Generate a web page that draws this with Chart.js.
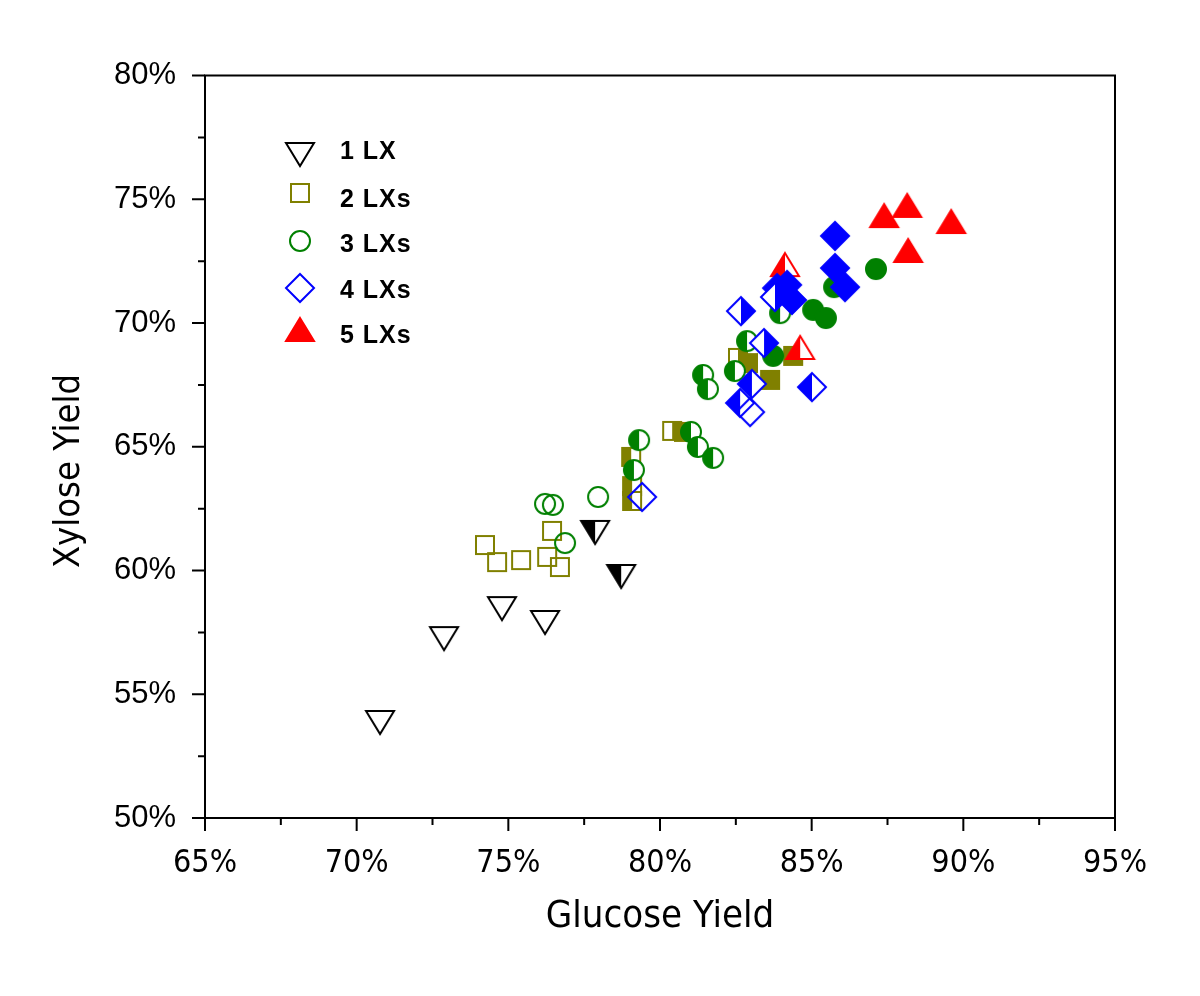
<!DOCTYPE html>
<html>
<head>
<meta charset="utf-8">
<script src="https://cdn.jsdelivr.net/npm/chart.js@4.4.1/dist/chart.umd.min.js"></script>
<style>
html, body { margin: 0; padding: 0; background: #ffffff; }
#wrap { width: 1200px; height: 996px; }
</style>
</head>
<body>
<div id="wrap"><canvas id="myChart" width="1200" height="996"></canvas></div>
<script>
// values, in %; fill: o = open, f = filled, L/R = half filled
const lx1_glucose = [70.77, 72.88, 74.79, 76.21, 77.86, 78.72];
const lx1_xylose  = [53.88, 57.27, 58.48, 57.92, 61.56, 59.78];
const lx1_fill    = ['o', 'o', 'o', 'o', 'L', 'L'];

const lx2_glucose = [74.23, 74.63, 75.42, 76.28, 76.44, 76.70, 79.05, 79.08, 79.08, 80.40, 80.79, 82.57, 82.90, 83.63, 84.39];
const lx2_xylose  = [61.03, 60.34, 60.42, 60.55, 61.60, 60.14, 64.59, 63.41, 62.81, 65.64, 65.60, 68.59, 68.38, 67.70, 68.67];
const lx2_fill    = ['o', 'o', 'o', 'o', 'o', 'o', 'L', 'L', 'L', 'R', 'L', 'R', 'f', 'f', 'f'];

const lx3_glucose = [76.21, 76.47, 76.87, 77.96, 79.14, 79.31, 81.02, 81.25, 81.75, 81.42, 81.58, 82.47, 82.87, 83.73, 83.96, 85.05, 85.47, 85.74, 87.12];
const lx3_xylose  = [62.69, 62.65, 61.11, 62.97, 64.06, 65.27, 65.60, 64.99, 64.55, 67.90, 67.33, 68.06, 69.27, 68.67, 70.40, 70.53, 70.20, 71.45, 72.18];
const lx3_fill    = ['o', 'o', 'o', 'o', 'L', 'L', 'L', 'L', 'L', 'L', 'L', 'L', 'L', 'f', 'L', 'f', 'f', 'f', 'f'];

const lx4_glucose = [79.41, 82.67, 83.43, 83.03, 82.64, 82.97, 85.01, 85.77, 85.77, 86.10, 83.86, 84.19, 84.35, 83.79];
const lx4_xylose  = [62.97, 70.48, 69.19, 67.54, 66.77, 66.40, 67.41, 73.52, 72.22, 71.45, 71.41, 71.54, 70.93, 71.05];
const lx4_fill    = ['o', 'R', 'R', 'L', 'L', 'o', 'L', 'f', 'f', 'f', 'f', 'f', 'f', 'R'];

const lx5_glucose = [84.12, 84.62, 87.39, 88.15, 89.60, 88.18];
const lx5_xylose  = [72.34, 68.99, 74.32, 74.73, 74.08, 72.91];
const lx5_fill    = ['L', 'L', 'f', 'f', 'f', 'f'];

const series_names = ['1 LX', '2 LXs', '3 LXs', '4 LXs', '5 LXs'];
const x_ticks = [65, 70, 75, 80, 85, 90, 95];
const y_ticks = [50, 55, 60, 65, 70, 75, 80];

function make_marker(shape, color, fill) {
    var c = document.createElement('canvas');
    c.width = 36; c.height = 36;
    var ctx = c.getContext('2d');
    var cx = 18, cy = 18;
    function path() {
        ctx.beginPath();
        if (shape == 'tri_down') { ctx.moveTo(cx - 14, cy - 11); ctx.lineTo(cx + 14, cy - 11); ctx.lineTo(cx, cy + 12); ctx.closePath(); }
        else if (shape == 'tri_up') { ctx.moveTo(cx, cy - 12); ctx.lineTo(cx + 14, cy + 11); ctx.lineTo(cx - 14, cy + 11); ctx.closePath(); }
        else if (shape == 'square') { ctx.rect(cx - 9, cy - 9, 18, 18); }
        else if (shape == 'circle') { ctx.arc(cx, cy, 10, 0, Math.PI * 2); }
        else { ctx.moveTo(cx, cy - 14); ctx.lineTo(cx + 14, cy); ctx.lineTo(cx, cy + 14); ctx.lineTo(cx - 14, cy); ctx.closePath(); }
    }
    ctx.lineWidth = 2;
    ctx.strokeStyle = color;
    if (fill == 'f') { path(); ctx.fillStyle = color; ctx.fill(); }
    if (fill == 'L' || fill == 'R') {
        path(); ctx.fillStyle = '#ffffff'; ctx.fill();
        ctx.save();
        ctx.beginPath();
        if (fill == 'L') ctx.rect(0, 0, cx, 36); else ctx.rect(cx, 0, 36 - cx, 36);
        ctx.clip();
        path(); ctx.fillStyle = color; ctx.fill();
        ctx.restore();
    }
    path(); ctx.stroke();
    return c;
}

const shapes = ['tri_down', 'square', 'circle', 'diamond', 'tri_up'];
const colors = ['#000000', '#808000', '#008000', '#0000ff', '#ff0000'];
const draw_order = [4, 3, 2, 0, 1];
const all_x = [lx1_glucose, lx2_glucose, lx3_glucose, lx4_glucose, lx5_glucose];
const all_y = [lx1_xylose, lx2_xylose, lx3_xylose, lx4_xylose, lx5_xylose];
const all_fill = [lx1_fill, lx2_fill, lx3_fill, lx4_fill, lx5_fill];

var marker_imgs = [];
var data_set = [];
for (let s = 0; s < 5; s++) {
    let imgs = {
        o: make_marker(shapes[s], colors[s], 'o'),
        f: make_marker(shapes[s], colors[s], 'f'),
        L: make_marker(shapes[s], colors[s], 'L'),
        R: make_marker(shapes[s], colors[s], 'R')
    };
    marker_imgs.push(imgs);
    let points = [];
    for (let i = 0; i < all_x[s].length; i++) {
        points.push({x: all_x[s][i], y: all_y[s][i]});
    }
    data_set.push({
        label: series_names[s],
        data: points,
        order: draw_order[s],
        pointRadius: 10,
        pointHoverRadius: 10,
        pointStyle: function(ctx) { return imgs[all_fill[s][ctx.dataIndex]] || imgs.o; }
    });
}

const frame_plugin = {
    id: 'frame_plugin',
    beforeDatasetsDraw: (chart) => {
        const ctx = chart.ctx;
        const a = chart.chartArea;
        const xs = chart.scales.x, ys = chart.scales.y;
        ctx.save();
        ctx.strokeStyle = '#000000';
        ctx.lineWidth = 2;
        ctx.strokeRect(a.left, a.top, a.right - a.left, a.bottom - a.top);
        ctx.beginPath();
        for (let i = 0; i < x_ticks.length; i++) {
            let px = xs.getPixelForValue(x_ticks[i]);
            ctx.moveTo(px, a.bottom); ctx.lineTo(px, a.bottom + 13);
            if (i < x_ticks.length - 1) {
                let mx = xs.getPixelForValue((x_ticks[i] + x_ticks[i + 1]) / 2);
                ctx.moveTo(mx, a.bottom); ctx.lineTo(mx, a.bottom + 7);
            }
        }
        for (let i = 0; i < y_ticks.length; i++) {
            let py = ys.getPixelForValue(y_ticks[i]);
            ctx.moveTo(a.left, py); ctx.lineTo(a.left - 13, py);
            if (i < y_ticks.length - 1) {
                let my = ys.getPixelForValue((y_ticks[i] + y_ticks[i + 1]) / 2);
                ctx.moveTo(a.left, my); ctx.lineTo(a.left - 7, my);
            }
        }
        ctx.stroke();

        // y axis title, sits a bit below the axis middle in the original
        ctx.fillStyle = '#000000';
        ctx.font = '36px "Liberation Sans Narrow", "DejaVu Sans Condensed", sans-serif';
        ctx.textAlign = 'center';
        ctx.textBaseline = 'middle';
        ctx.translate(70, 471);
        ctx.rotate(-Math.PI / 2);
        ctx.fillText('Xylose Yield', 0, 0);
        ctx.restore();
    }
};

const legend_plugin = {
    id: 'legend_plugin',
    afterDatasetsDraw: (chart) => {
        const ctx = chart.ctx;
        const marker_y = [154, 193, 241, 288, 330];
        const text_y = [152, 200, 245, 291, 336];
        ctx.save();
        ctx.fillStyle = '#000000';
        ctx.font = 'bold 25px "Liberation Sans", Arial, sans-serif';
        ctx.textBaseline = 'middle';
        ctx.textAlign = 'left';
        try { ctx.letterSpacing = '1px'; } catch (e) {}
        for (let s = 0; s < 5; s++) {
            let img = s == 4 ? marker_imgs[s].f : marker_imgs[s].o;
            ctx.drawImage(img, 300 - 18, marker_y[s] - 18);
            ctx.fillText(series_names[s], 340, text_y[s]);
        }
        ctx.restore();
    }
};

var the_chart_canvas = document.getElementById('myChart').getContext('2d');
var myChart = new Chart(the_chart_canvas, {
    type: 'scatter',
    data: { datasets: data_set },
    options: {
        responsive: false,
        animation: false,
        layout: { padding: { left: 0, top: 75.5, right: 85, bottom: 0 } },
        plugins: { legend: { display: false }, tooltip: { enabled: false } },
        scales: {
            x: {
                type: 'linear', min: 65, max: 95,
                afterBuildTicks: (s) => { s.ticks = x_ticks.map(v => ({value: v})); },
                afterFit: (s) => { s.height = 178; },
                grid: { display: false, drawTicks: false },
                border: { display: false },
                ticks: {
                    padding: 26, color: '#000000', maxRotation: 0, autoSkip: false,
                    font: { family: '"Liberation Sans Narrow", "DejaVu Sans Condensed", sans-serif', size: 32 },
                    callback: (v) => v + '%'
                },
                title: {
                    display: true, text: 'Glucose Yield', color: '#000000',
                    font: { family: '"Liberation Sans Narrow", "DejaVu Sans Condensed", sans-serif', size: 38 },
                    padding: { top: 0, bottom: 56 }
                }
            },
            y: {
                type: 'linear', min: 50, max: 80,
                afterBuildTicks: (s) => { s.ticks = y_ticks.map(v => ({value: v})); },
                afterFit: (s) => { s.width = 205; },
                grid: { display: false, drawTicks: false },
                border: { display: false },
                ticks: {
                    padding: 29, color: '#000000', autoSkip: false,
                    font: { family: '"Liberation Sans", Arial, sans-serif', size: 31 },
                    callback: (v) => v + '%'
                },
                title: { display: false }
            }
        }
    },
    plugins: [frame_plugin, legend_plugin]
});
</script>
</body>
</html>
